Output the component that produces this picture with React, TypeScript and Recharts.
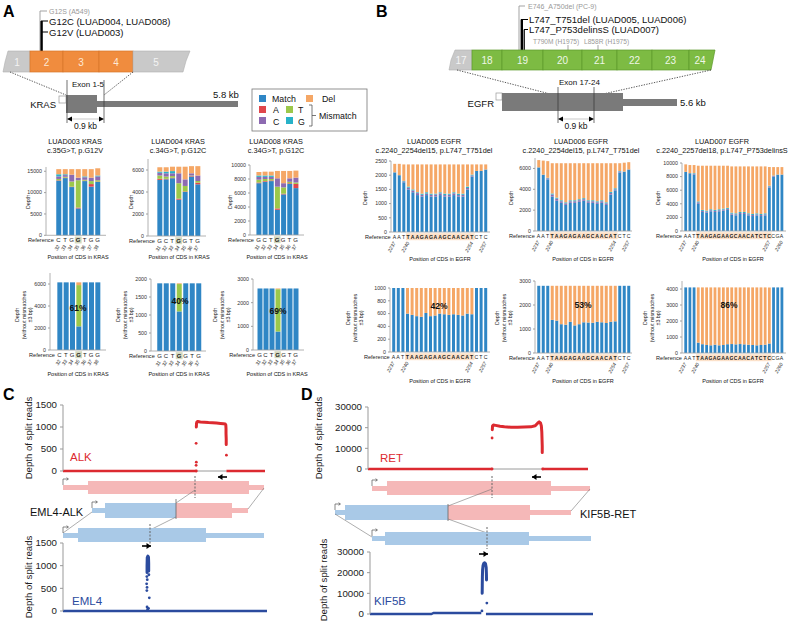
import React from 'react'
import { BarChart, Bar, XAxis, YAxis, ComposedChart, Line } from 'recharts'

const FONT = '"Liberation Sans", Arial, Helvetica, sans-serif'
const MATCH = '#2f86c5'
const MIS_A = '#e0464b'
const MIS_T = '#9cc84b'
const MIS_C = '#8d6ab1'
const MIS_G = '#27b2c8'
const DEL = '#f5a766'
const RED = '#dc2a30'
const NAVY = '#2b4b9e'
const PINK = '#f5b8b8'
const SKY = '#a9c9e7'

// ---------- panel A: KRAS
const krasPos003 = [32, 33, 34, 35, 36, 37, 38]
const krasRef003 = ['C', 'T', 'G', 'G', 'T', 'G', 'G']
const krasPos004 = [31, 32, 33, 34, 35, 36, 37]
const krasRef004 = ['G', 'C', 'T', 'G', 'G', 'T', 'G']
const krasHi = [3]

const k003Match = [12800, 13400, 11300, 6300, 12700, 11400, 12500]
const k003A = [100, 100, 100, 200, 100, 600, 100]
const k003T = [300, 200, 1200, 6400, 200, 700, 300]
const k003C = [600, 400, 1600, 600, 600, 800, 900]
const k003G = [500, 200, 0, 0, 200, 0, 200]
const k003Del = [1200, 1200, 1300, 2000, 1700, 2000, 1700]

const k004Match = [5100, 5150, 5250, 3300, 4000, 5400, 4700]
const k004A = [100, 50, 50, 100, 50, 50, 150]
const k004T = [300, 200, 150, 1400, 500, 50, 150]
const k004C = [250, 300, 250, 900, 600, 200, 500]
const k004G = [100, 150, 200, 0, 0, 0, 0]
const k004Del = [400, 400, 400, 600, 1150, 650, 850]

const k008Match = [7400, 7600, 7700, 3600, 5800, 7300, 6700]
const k008A = [100, 100, 100, 200, 100, 100, 600]
const k008T = [400, 300, 200, 3100, 900, 200, 200]
const k008C = [400, 300, 300, 1200, 600, 500, 700]
const k008G = [200, 200, 200, 0, 0, 0, 0]
const k008Del = [500, 550, 550, 1050, 1750, 1050, 1000]

// without mismatches +-3 bp
const k003bMatch = [6150, 6150, 6150, 2150, 6150, 6150, 6150]
const k003bT = [0, 0, 0, 3750, 0, 0, 0]
const k003bDel = [0, 0, 0, 250, 0, 0, 0]
const k004bMatch = [1880, 1880, 1880, 1100, 1880, 1880, 1880]
const k004bT = [0, 0, 0, 760, 0, 0, 0]
const k004bDel = [0, 0, 0, 20, 0, 0, 0]
const k008bMatch = [2600, 2600, 2600, 780, 2600, 2600, 2600]
const k008bT = [0, 0, 0, 1790, 0, 0, 0]
const k008bDel = [0, 0, 0, 30, 0, 0, 0]

// ---------- panel B: EGFR
const egfrPos21 = [2237, 2238, 2239, 2240, 2241, 2242, 2243, 2244, 2245, 2246, 2247, 2248, 2249, 2250, 2251, 2252, 2253, 2254, 2255, 2256, 2257]
const egfrRef21 = ['A', 'A', 'T', 'T', 'A', 'A', 'G', 'A', 'G', 'A', 'A', 'G', 'C', 'A', 'A', 'C', 'A', 'T', 'C', 'T', 'C']
const egfrHi21 = [3, 4, 5, 6, 7, 8, 9, 10, 11, 12, 13, 14, 15, 16, 17]
const egfrShown21 = [2237, 2240, 2254, 2257]
const egfrPos24 = [2237, 2238, 2239, 2240, 2241, 2242, 2243, 2244, 2245, 2246, 2247, 2248, 2249, 2250, 2251, 2252, 2253, 2254, 2255, 2256, 2257, 2258, 2259, 2260]
const egfrRef24 = ['A', 'A', 'T', 'T', 'A', 'A', 'G', 'A', 'G', 'A', 'A', 'G', 'C', 'A', 'A', 'C', 'A', 'T', 'C', 'T', 'C', 'C', 'G', 'A']
const egfrHi24 = [3, 4, 5, 6, 7, 8, 9, 10, 11, 12, 13, 14, 15, 16, 17, 18, 19, 20]
const egfrShown24 = [2237, 2240, 2257, 2260]

const e005Match = [2100, 2000, 1750, 1500, 1400, 1300, 1250, 1300, 1250, 1250, 1300, 1250, 1250, 1300, 1250, 1250, 1500, 1950, 2150, 2150, 2200]
const e005C = [0, 0, 30, 60, 60, 70, 60, 50, 60, 70, 60, 50, 60, 60, 50, 60, 50, 40, 0, 0, 0]
const e005G = [0, 0, 20, 40, 40, 30, 40, 50, 40, 30, 40, 50, 40, 40, 50, 40, 50, 30, 0, 0, 0]
const e005Del = [300, 400, 580, 780, 880, 980, 1030, 980, 1030, 1030, 980, 1030, 1030, 980, 1030, 1030, 780, 360, 230, 230, 180]

const e006Match = [6100, 5400, 4950, 3300, 2900, 2700, 2500, 2700, 2700, 2800, 2900, 2700, 2700, 2600, 2700, 2500, 3500, 3900, 5600, 5700, 5900]
const e006C = [0, 0, 100, 200, 200, 150, 150, 150, 150, 150, 150, 150, 150, 150, 150, 150, 150, 100, 100, 0, 0]
const e006G = [0, 0, 50, 100, 100, 100, 100, 100, 100, 100, 100, 100, 100, 100, 100, 100, 100, 100, 50, 0, 0]
const e006Del = [700, 1350, 1600, 2900, 3300, 3550, 3750, 3550, 3550, 3450, 3350, 3550, 3550, 3650, 3550, 3750, 2750, 2400, 750, 850, 700]

const e007Match = [8700, 8500, 8300, 4000, 2800, 2700, 2900, 2800, 2900, 3000, 3100, 2400, 2300, 2500, 2500, 2300, 2200, 2300, 2200, 2300, 6400, 8000, 8300, 8300]
const e007C = [0, 0, 100, 200, 150, 150, 150, 150, 150, 150, 150, 150, 150, 150, 150, 150, 150, 150, 150, 150, 150, 100, 0, 0]
const e007G = [0, 0, 100, 150, 150, 150, 150, 150, 150, 150, 150, 150, 150, 150, 150, 150, 150, 150, 150, 150, 100, 50, 0, 0]
const e007Del = [1100, 1200, 1200, 5250, 6500, 6600, 6400, 6500, 6400, 6300, 6200, 6800, 6900, 6700, 6700, 6900, 7000, 6900, 7000, 6900, 2750, 1250, 1100, 1100]

const e005bMatch = [1000, 1000, 1000, 600, 580, 560, 550, 610, 560, 570, 600, 590, 580, 590, 580, 570, 600, 590, 1000, 1000, 1000]
const e005bDel = [0, 0, 0, 400, 420, 440, 450, 390, 440, 430, 400, 410, 420, 410, 420, 430, 400, 410, 0, 0, 0]
const e006bMatch = [2800, 2800, 2800, 1380, 1350, 1200, 1180, 1300, 1150, 1200, 1280, 1270, 1260, 1300, 1280, 1250, 1300, 1320, 2800, 2800, 2800]
const e006bDel = [0, 0, 0, 1420, 1450, 1600, 1620, 1500, 1650, 1600, 1520, 1530, 1540, 1500, 1520, 1550, 1500, 1480, 0, 0, 0]
const e007bMatch = [4100, 4100, 4100, 650, 550, 500, 480, 520, 480, 500, 550, 560, 540, 560, 540, 520, 500, 480, 500, 520, 600, 4100, 4100, 4100]
const e007bDel = [0, 0, 0, 3450, 3550, 3600, 3620, 3580, 3620, 3600, 3550, 3540, 3560, 3540, 3560, 3580, 3600, 3620, 3600, 3580, 3500, 0, 0, 0]

// ---------- panels C / D: split read depth (x = relative genomic position 0-100)
const zero2 = [0, 0]
const alkBaseL = [0, 66.0]
const alkBaseR = [80.9, 100]
const alkGap = [66.0, 80.9]
const alkPeakPos = [66.0, 66.1, 66.3, 66.8, 68, 70, 72, 74, 76, 78, 79.5, 80.3, 80.6, 80.7, 80.7, 80.8, 80.8]
const alkPeakDepth = [1000, 1080, 1115, 1125, 1115, 1108, 1100, 1095, 1090, 1082, 1075, 1070, 1045, 960, 850, 720, 600]
const alkDotPos = [65.9, 66.0, 65.9, 80.9, 66.0]
const alkDotDepth = [130, 200, 630, 360, 0]

const emlBase = [0, 100]
const emlPeakPos = [41.2, 41.2, 41.3, 41.6, 41.9, 42.0, 42.0]
const emlPeakDepth = [850, 1000, 1180, 1210, 1190, 1050, 880]
const emlDotPos = [41.1, 41.3, 41.0, 41.2, 42.1, 41.1, 42.3, 41.2, 41.9, 41.5]
const emlDotDepth = [760, 690, 600, 520, 800, 450, 290, 90, 60, 40]

const retBaseL = [0, 56.4]
const retBaseR = [79.4, 100]
const retGap = [56.4, 79.4]
const retPeakPos = [56.5, 56.6, 57.0, 58, 60, 62, 65, 68, 71, 74, 76, 77.2, 77.8, 78.4, 78.8, 79.0, 79.1, 79.2, 79.2]
const retPeakDepth = [19000, 20800, 21300, 21100, 20700, 20400, 20200, 20200, 20300, 20400, 20900, 22300, 22800, 22300, 20800, 18000, 14500, 11000, 8000]
const retDotPos = [56.4, 56.4, 79.4]
const retDotDepth = [15000, 0, 0]

const kifBaseLPos = [0, 27.5, 28.5, 49.9]
const kifBaseLDepth = [0, 0, 500, 500]
const kifBaseR = [52.0, 100]
const kifPeakPos = [50.3, 50.35, 50.4, 50.5, 50.7, 51.0, 51.4, 51.8, 52.1, 52.2, 52.25]
const kifPeakDepth = [10000, 14000, 18000, 21500, 23500, 24500, 24800, 24300, 22500, 19500, 16500]
const kifDotPos = [52.4, 50.2]
const kifDotDepth = [5300, 1500]

const zip = (xs: number[], ys: number[]) => xs.map((x, i) => ({ x, y: ys[i] }))
const S = (key: string, vals: number[], color: string) => ({ key, vals, color })

const smallCharts: any[] = [
  { axisX: 46, xEnd: 106, barL: 56, barR: 100, barW: 5, y0: 235, yTop: 166.7, ymax: 16000, ticks: [0, 5000, 10000, 15000], pos: krasPos003, refs: krasRef003, hi: krasHi, shown: krasPos003, hiColor: '#d5d9bf', letter: 6,
    series: [S('m', k003Match, MATCH), S('a', k003A, MIS_A), S('t', k003T, MIS_T), S('c', k003C, MIS_C), S('g', k003G, MIS_G), S('d', k003Del, DEL)] },
  { axisX: 148, xEnd: 206, barL: 157, barR: 200, barW: 5, y0: 236, yTop: 159, ymax: 7000, ticks: [0, 2000, 4000, 6000], pos: krasPos004, refs: krasRef004, hi: krasHi, shown: krasPos004, hiColor: '#d5d9bf', letter: 6,
    series: [S('m', k004Match, MATCH), S('a', k004A, MIS_A), S('t', k004T, MIS_T), S('c', k004C, MIS_C), S('g', k004G, MIS_G), S('d', k004Del, DEL)] },
  { axisX: 250, xEnd: 304, barL: 256, barR: 298, barW: 5, y0: 235, yTop: 165, ymax: 10000, ticks: [0, 2000, 4000, 6000, 8000, 10000], pos: krasPos004, refs: krasRef004, hi: krasHi, shown: krasPos004, hiColor: '#d5d9bf', letter: 6,
    series: [S('m', k008Match, MATCH), S('a', k008A, MIS_A), S('t', k008T, MIS_T), S('c', k008C, MIS_C), S('g', k008G, MIS_G), S('d', k008Del, DEL)] },
  { axisX: 50, xEnd: 106, barL: 57, barR: 100, barW: 5, y0: 350, yTop: 273, ymax: 7000, ticks: [0, 2000, 4000, 6000], pos: krasPos003, refs: krasRef003, hi: krasHi, shown: krasPos003, hiColor: '#d5d9bf', letter: 6,
    series: [S('m', k003bMatch, MATCH), S('t', k003bT, MIS_T), S('d', k003bDel, DEL)] },
  { axisX: 151, xEnd: 206, barL: 157, barR: 201, barW: 5, y0: 351, yTop: 279, ymax: 2000, ticks: [0, 500, 1000, 1500, 2000], pos: krasPos004, refs: krasRef004, hi: krasHi, shown: krasPos004, hiColor: '#d5d9bf', letter: 6,
    series: [S('m', k004bMatch, MATCH), S('t', k004bT, MIS_T), S('d', k004bDel, DEL)] },
  { axisX: 253, xEnd: 304, barL: 257, barR: 298, barW: 5, y0: 350, yTop: 279, ymax: 3000, ticks: [0, 1000, 2000, 3000], pos: krasPos004, refs: krasRef004, hi: krasHi, shown: krasPos004, hiColor: '#d5d9bf', letter: 6,
    series: [S('m', k008bMatch, MATCH), S('t', k008bT, MIS_T), S('d', k008bDel, DEL)] },
  { axisX: 391, xEnd: 490, barL: 393, barR: 487, barW: 3, y0: 232, yTop: 161, ymax: 2500, ticks: [0, 500, 1000, 1500, 2000, 2500], pos: egfrPos21, refs: egfrRef21, hi: egfrHi21, shown: egfrShown21, hiColor: '#fce1c9', letter: 5.2,
    series: [S('m', e005Match, MATCH), S('c', e005C, MIS_C), S('g', e005G, MIS_G), S('d', e005Del, DEL)] },
  { axisX: 535, xEnd: 632, barL: 537, barR: 630, barW: 3, y0: 231, yTop: 158, ymax: 7000, ticks: [0, 2000, 4000, 6000], pos: egfrPos21, refs: egfrRef21, hi: egfrHi21, shown: egfrShown21, hiColor: '#fce1c9', letter: 5.2,
    series: [S('m', e006Match, MATCH), S('c', e006C, MIS_C), S('g', e006G, MIS_G), S('d', e006Del, DEL)] },
  { axisX: 682, xEnd: 786, barL: 684, barR: 783, barW: 2.8, y0: 231, yTop: 163, ymax: 10000, ticks: [0, 2000, 4000, 6000, 8000, 10000], pos: egfrPos24, refs: egfrRef24, hi: egfrHi24, shown: egfrShown24, hiColor: '#fce1c9', letter: 5.2,
    series: [S('m', e007Match, MATCH), S('c', e007C, MIS_C), S('g', e007G, MIS_G), S('d', e007Del, DEL)] },
  { axisX: 390, xEnd: 490, barL: 392, barR: 487, barW: 3, y0: 352, yTop: 288, ymax: 1000, ticks: [0, 200, 400, 600, 800, 1000], pos: egfrPos21, refs: egfrRef21, hi: egfrHi21, shown: egfrShown21, hiColor: '#fce1c9', letter: 5.2,
    series: [S('m', e005bMatch, MATCH), S('d', e005bDel, DEL)] },
  { axisX: 535, xEnd: 632, barL: 537, barR: 630, barW: 3, y0: 353, yTop: 281, ymax: 3000, ticks: [0, 1000, 2000, 3000], pos: egfrPos21, refs: egfrRef21, hi: egfrHi21, shown: egfrShown21, hiColor: '#fce1c9', letter: 5.2,
    series: [S('m', e006bMatch, MATCH), S('d', e006bDel, DEL)] },
  { axisX: 682, xEnd: 786, barL: 684, barR: 783, barW: 2.8, y0: 353, yTop: 281, ymax: 4500, ticks: [0, 1000, 2000, 3000, 4000], pos: egfrPos24, refs: egfrRef24, hi: egfrHi24, shown: egfrShown24, hiColor: '#fce1c9', letter: 5.2,
    series: [S('m', e007bMatch, MATCH), S('d', e007bDel, DEL)] },
]

function SmallBars({ p }: any) {
  const YW = 42, XH = 26, MT = 3, MR = 3
  const n = p.pos.length
  const s = (p.barR - p.barL - p.barW) / (n - 1)
  const r0 = p.barL + p.barW / 2 - s / 2
  const r1 = p.barR - p.barW / 2 + s / 2
  const rows = p.pos.map((ps: number, i: number) => {
    const o: any = { pos: ps }
    p.series.forEach((se: any) => { o[se.key] = se.vals[i] })
    return o
  })
  const tick = (t: any) => {
    const v = t.payload.value
    const i = p.pos.indexOf(v)
    const hi = p.hi.includes(i)
    return (
      <g transform={`translate(${t.x},${t.y})`}>
        {hi && <rect x={-s / 2} y={1.2} width={s + 0.4} height={7} fill={p.hiColor} />}
        <text x={0} y={7.2} textAnchor="middle" fontSize={p.letter} fontWeight={hi ? 'bold' : 'normal'} fill="#222">{p.refs[i]}</text>
        {i === 0 && <text x={-s / 2 - 1.5} y={7.2} textAnchor="end" fontSize={5.6} fill="#222">Reference</text>}
        {p.shown.includes(v) && (
          <text transform="translate(1.5,11) rotate(-60)" textAnchor="end" fontSize={5} fontStyle="italic" fill="#333">{v}</text>
        )}
      </g>
    )
  }
  return (
    <div style={{ position: 'absolute', left: p.axisX - YW, top: p.yTop - MT }}>
      <BarChart width={YW + (p.xEnd - p.axisX) + MR} height={MT + (p.y0 - p.yTop) + XH} data={rows}
        margin={{ top: MT, right: MR, left: 0, bottom: 0 }} barSize={p.barW}>
        <XAxis dataKey="pos" height={XH} interval={0} tickLine={false} tickSize={0} tickMargin={0} tick={tick}
          padding={{ left: r0 - p.axisX, right: p.xEnd - r1 }} axisLine={{ stroke: '#a0a0a0', strokeWidth: 0.8 }} />
        <YAxis width={YW} domain={[0, p.ymax]} ticks={p.ticks} interval={0} tickSize={2} tickMargin={2}
          tick={{ fontSize: 5.3, fill: '#333' }} tickLine={{ stroke: '#a0a0a0' }} axisLine={{ stroke: '#a0a0a0', strokeWidth: 0.8 }} />
        {p.series.map((se: any) => (
          <Bar key={se.key} dataKey={se.key} stackId="s" fill={se.color} isAnimationActive={false} />
        ))}
      </BarChart>
    </div>
  )
}

function SplitChart({ axisX, xEnd, yTop, y0, ymax, ticks, color, base, gap, main, dots }: any) {
  const YW = 46, MT = 6, MR = 3, MB = 6
  return (
    <div style={{ position: 'absolute', left: axisX - YW, top: yTop - MT }}>
      <ComposedChart width={YW + xEnd - axisX + MR} height={MT + y0 - yTop + MB} margin={{ top: MT, right: MR, left: 0, bottom: MB }}>
        <XAxis type="number" dataKey="x" domain={[0, 100]} hide />
        <YAxis type="number" domain={[0, ymax]} ticks={ticks} interval={0} width={YW} tickSize={3} tickMargin={3}
          tick={{ fontSize: 9.7, fill: '#222' }} axisLine={{ stroke: '#999' }} tickLine={{ stroke: '#999' }} />
        {gap && <Line data={gap} dataKey="y" stroke="#9a9a9a" strokeWidth={1} dot={false} isAnimationActive={false} />}
        {base.map((seg: any, i: number) => (
          <Line key={i} data={seg} dataKey="y" stroke={color} strokeWidth={2.4} dot={false} isAnimationActive={false} />
        ))}
        <Line data={main} dataKey="y" stroke={color} strokeWidth={3} strokeLinecap="round" strokeLinejoin="round" dot={false} isAnimationActive={false} />
        <Line data={dots} dataKey="y" stroke="none" dot={{ r: 1.4, fill: color, stroke: color, strokeWidth: 0 }} isAnimationActive={false} />
      </ComposedChart>
    </div>
  )
}

const Tx = ({ x, y, s, size = 9, fill = '#111', anchor = 'start', weight = 'normal' }: any) => (
  <text x={x} y={y} fontSize={size} fill={fill} textAnchor={anchor} fontWeight={weight}>{s}</text>
)

const RotLines = ({ x, y, lines, size = 5.3, gap = 6.6, fill = '#222' }: any) => (
  <>
    {lines.map((l: string, i: number) => (
      <text key={i} transform={`translate(${x + i * gap},${y}) rotate(-90)`} textAnchor="middle" fontSize={size} fill={fill}>{l}</text>
    ))}
  </>
)

const Tss = ({ x, y }: any) => (
  <g stroke="#555" strokeWidth={0.7} fill="none">
    <path d={`M${x} ${y} V${y - 6} H${x + 5}`} />
    <path d={`M${x + 3.5} ${y - 7.3} L${x + 5.5} ${y - 6} L${x + 3.5} ${y - 4.7}`} />
  </g>
)

const DirArrow = ({ x, y, dir }: any) => (
  <g>
    <line x1={x} y1={y} x2={x + dir * 9} y2={y} stroke="#000" strokeWidth={1.6} />
    <polygon points={`${x + dir * 9},${y} ${x + dir * 4.5},${y - 3} ${x + dir * 4.5},${y + 3}`} fill="#000" />
  </g>
)

const Dim = ({ x1, x2, y }: any) => (
  <g>
    <line x1={x1} y1={y} x2={x2} y2={y} stroke="#bbb" strokeWidth={0.8} />
    <polygon points={`${x1},${y} ${x1 + 5},${y - 2.5} ${x1 + 5},${y + 2.5}`} fill="#000" />
    <polygon points={`${x2},${y} ${x2 - 5},${y - 2.5} ${x2 - 5},${y + 2.5}`} fill="#000" />
  </g>
)

function Overlay() {
  const exonK = [[30, 63, '2'], [63, 99, '3'], [99, 133, '4']]
  const exonE = [[472, 502, '18'], [502, 543, '19'], [543, 582, '20'], [582, 617, '21'], [617, 652, '22'], [652, 689, '23']]
  const titles = [
    [75, 'LUAD003 KRAS', 'c.35G>T, p.G12V'], [178, 'LUAD004 KRAS', 'c.34G>T, p.G12C'], [276, 'LUAD008 KRAS', 'c.34G>T, p.G12C'],
    [434, 'LUAD005 EGFR', 'c.2240_2254del15, p.L747_T751del'], [581, 'LUAD006 EGFR', 'c.2240_2254del15, p.L747_T751del'],
    [722, 'LUAD007 EGFR', 'c.2240_2257del18, p.L747_P753delinsS'],
  ]
  const depthLbl = ['Depth', '(without mismatches', '\u00b13 bp)']
  return (
    <svg width={800} height={626} style={{ position: 'absolute', left: 0, top: 0, pointerEvents: 'none' }} fontFamily={FONT}>
      <Tx x={3} y={17} s="A" size={16} weight="bold" fill="#000" />
      <Tx x={376} y={17} s="B" size={16} weight="bold" fill="#000" />
      <Tx x={3} y={400} s="C" size={16} weight="bold" fill="#000" />
      <Tx x={301} y={400} s="D" size={16} weight="bold" fill="#000" />

      {/* KRAS gene */}
      <path d="M40 51 V11 H47" stroke="#999" strokeWidth={0.9} fill="none" />
      <line x1={41.6} y1={21} x2={41.6} y2={51} stroke="#000" strokeWidth={2.4} />
      <path d="M41 21 H48 M41 32 H48" stroke="#000" strokeWidth={1} />
      <Tx x={49} y={13.5} s="G12S (A549)" size={7} fill="#999" />
      <Tx x={49} y={25} s="G12C (LUAD004, LUAD008)" size={9.5} />
      <Tx x={49} y={36} s="G12V (LUAD003)" size={9.5} />
      <polygon points="8,51 30,51 30,72 3,72 5,62" fill="#c9c9c9" stroke="#b0b0b0" strokeWidth={0.6} />
      {exonK.map((e: any) => (
        <g key={e[2]}>
          <rect x={e[0]} y={51} width={e[1] - e[0]} height={21} fill="#f08c3e" stroke="#d6752a" strokeWidth={0.7} />
          <Tx x={(e[0] + e[1]) / 2} y={65.5} s={e[2]} size={10} fill="#fde9d6" anchor="middle" />
        </g>
      ))}
      <polygon points="133,51 190,51 186,61 183,72 133,72" fill="#c9c9c9" stroke="#b0b0b0" strokeWidth={0.6} />
      <Tx x={17} y={65.5} s="1" size={10} fill="#f4f4f4" anchor="middle" />
      <Tx x={156} y={65.5} s="5" size={10} fill="#f4f4f4" anchor="middle" />
      <line x1={10} y1={72} x2={66} y2={95} stroke="#444" strokeWidth={0.9} strokeDasharray="1.3 1.3" />
      <line x1={133} y1={72} x2={104} y2={95} stroke="#444" strokeWidth={0.9} strokeDasharray="1.3 1.3" />
      <Tx x={72} y={87} s="Exon 1-5" size={8} />
      <rect x={59} y={96} width={7} height={7} fill="#fff" stroke="#999" strokeWidth={0.7} />
      <rect x={66} y={95} width={31} height={18} fill="#7a7a7a" />
      <rect x={97} y={101} width={141} height={6} fill="#7a7a7a" />
      <line x1={67} y1={80} x2={67} y2={123} stroke="#333" strokeWidth={0.7} />
      <line x1={104} y1={80} x2={104} y2={123} stroke="#333" strokeWidth={0.7} />
      <Dim x1={67} x2={104} y={119} />
      <Tx x={56} y={108} s="KRAS" size={9.5} anchor="end" />
      <Tx x={213} y={98} s="5.8 kb" size={9.5} />
      <Tx x={85.5} y={129} s="0.9 kb" size={8.5} anchor="middle" />

      {/* legend */}
      <rect x={252} y={89} width={115} height={42} fill="#fff" stroke="#777" strokeWidth={0.8} />
      <rect x={259} y={95} width={7} height={7} fill={MATCH} />
      <Tx x={272} y={102} s="Match" size={8.8} />
      <rect x={306} y={95} width={7} height={7} fill={DEL} />
      <Tx x={322} y={102} s="Del" size={8.8} />
      <rect x={259} y={106} width={7} height={7} fill={MIS_A} />
      <Tx x={273} y={113} s="A" size={8.8} />
      <rect x={286} y={106} width={7} height={7} fill={MIS_T} />
      <Tx x={298} y={113} s="T" size={8.8} />
      <rect x={259} y={117} width={7} height={7} fill={MIS_C} />
      <Tx x={273} y={124.5} s="C" size={8.8} />
      <rect x={286} y={117} width={7} height={7} fill={MIS_G} />
      <Tx x={298} y={124.5} s="G" size={8.8} />
      <path d="M309 105 H312 V126 H309 M312 115.5 H316" stroke="#555" strokeWidth={0.8} fill="none" />
      <Tx x={319} y={119} s="Mismatch" size={8.8} />

      {/* EGFR gene */}
      <path d="M519 50 V6 H525" stroke="#999" strokeWidth={0.9} fill="none" />
      <line x1={521.8} y1={19.5} x2={521.8} y2={50} stroke="#000" strokeWidth={2.4} />
      <line x1={524.2} y1={29.5} x2={524.2} y2={50} stroke="#000" strokeWidth={1.3} />
      <path d="M521 19.5 H528 M524 29.5 H528" stroke="#000" strokeWidth={1} />
      <Tx x={528} y={8.5} s="E746_A750del (PC-9)" size={7} fill="#999" />
      <Tx x={529} y={23} s="L747_T751del (LUAD005, LUAD006)" size={9.5} />
      <Tx x={529} y={33} s="L747_P753delinsS (LUAD007)" size={9.5} />
      <Tx x={533} y={43.5} s="T790M (H1975)" size={6.6} fill="#999" />
      <Tx x={584} y={43.5} s="L858R (H1975)" size={6.6} fill="#999" />
      <line x1={568} y1={45} x2={568} y2={50} stroke="#999" strokeWidth={0.9} />
      <line x1={598} y1={45} x2={598} y2={50} stroke="#999" strokeWidth={0.9} />
      <polygon points="455,50 472,50 472,70 449,70 451,60" fill="#c9c9c9" stroke="#b0b0b0" strokeWidth={0.6} />
      {exonE.map((e: any) => (
        <g key={e[2]}>
          <rect x={e[0]} y={50} width={e[1] - e[0]} height={20} fill="#7dbb43" stroke="#5d9a2c" strokeWidth={0.7} />
          <Tx x={(e[0] + e[1]) / 2} y={64} s={e[2]} size={10} fill="#eef7e6" anchor="middle" />
        </g>
      ))}
      <polygon points="689,50 715,50 713,60 711,70 689,70" fill="#7dbb43" stroke="#5d9a2c" strokeWidth={0.7} />
      <Tx x={461} y={64} s="17" size={10} fill="#f4f4f4" anchor="middle" />
      <Tx x={700} y={64} s="24" size={10} fill="#eef7e6" anchor="middle" />
      <line x1={457} y1={70} x2={558} y2={96} stroke="#444" strokeWidth={0.9} strokeDasharray="1.3 1.3" />
      <line x1={711} y1={70} x2={594} y2={96} stroke="#444" strokeWidth={0.9} strokeDasharray="1.3 1.3" />
      <Tx x={559} y={85} s="Exon 17-24" size={8} />
      <rect x={496} y={93} width={6} height={7} fill="#fff" stroke="#999" strokeWidth={0.7} />
      <rect x={502} y={93} width={121} height={18} fill="#7a7a7a" />
      <rect x={623} y={99} width={54} height={7} fill="#7a7a7a" />
      <line x1={558} y1={87} x2={558} y2={123} stroke="#333" strokeWidth={0.7} />
      <line x1={594} y1={87} x2={594} y2={123} stroke="#333" strokeWidth={0.7} />
      <Dim x1={558} x2={594} y={119} />
      <Tx x={494} y={107} s="EGFR" size={9.5} anchor="end" />
      <Tx x={680} y={106} s="5.6 kb" size={9.5} />
      <Tx x={576} y={129} s="0.9 kb" size={8.5} anchor="middle" />

      {/* small chart titles and labels */}
      {titles.map((t: any) => (
        <g key={t[1]}>
          <Tx x={t[0]} y={144} s={t[1]} size={7.3} anchor="middle" />
          <Tx x={t[0]} y={153} s={t[2]} size={7.3} anchor="middle" />
        </g>
      ))}
      <RotLines x={30} y={202} lines={['Depth']} />
      <RotLines x={133} y={202} lines={['Depth']} />
      <RotLines x={232} y={202} lines={['Depth']} />
      <RotLines x={367} y={198} lines={['Depth']} />
      <RotLines x={513} y={198} lines={['Depth']} />
      <RotLines x={660} y={198} lines={['Depth']} />
      <RotLines x={19} y={315} lines={depthLbl} />
      <RotLines x={120} y={315} lines={depthLbl} />
      <RotLines x={217} y={315} lines={depthLbl} />
      <RotLines x={350} y={318} lines={depthLbl} />
      <RotLines x={499} y={318} lines={depthLbl} />
      <RotLines x={647} y={318} lines={depthLbl} />
      <Tx x={78} y={259} s="Position of CDS in KRAS" size={5.5} anchor="middle" />
      <Tx x={179} y={259} s="Position of CDS in KRAS" size={5.5} anchor="middle" />
      <Tx x={277} y={259} s="Position of CDS in KRAS" size={5.5} anchor="middle" />
      <Tx x={78} y={376} s="Position of CDS in KRAS" size={5.5} anchor="middle" />
      <Tx x={179} y={376} s="Position of CDS in KRAS" size={5.5} anchor="middle" />
      <Tx x={277} y={376} s="Position of CDS in KRAS" size={5.5} anchor="middle" />
      <Tx x={440} y={261} s="Position of CDS in EGFR" size={5.5} anchor="middle" />
      <Tx x={583} y={261} s="Position of CDS in EGFR" size={5.5} anchor="middle" />
      <Tx x={733} y={261} s="Position of CDS in EGFR" size={5.5} anchor="middle" />
      <Tx x={440} y={383} s="Position of CDS in EGFR" size={5.5} anchor="middle" />
      <Tx x={583} y={383} s="Position of CDS in EGFR" size={5.5} anchor="middle" />
      <Tx x={733} y={383} s="Position of CDS in EGFR" size={5.5} anchor="middle" />
      <Tx x={78} y={311} s="61%" size={8.5} weight="bold" anchor="middle" />
      <Tx x={180} y={304} s="40%" size={8.5} weight="bold" anchor="middle" />
      <Tx x={278} y={314} s="69%" size={8.5} weight="bold" anchor="middle" />
      <Tx x={439} y={309} s="42%" size={8.5} weight="bold" anchor="middle" />
      <Tx x={583} y={308} s="53%" size={8.5} weight="bold" anchor="middle" />
      <Tx x={729} y={308} s="86%" size={8.5} weight="bold" anchor="middle" />

      {/* panel C diagrams */}
      <Tss x={63} y={485} />
      <rect x={63} y={485} width={25} height={5} fill={PINK} />
      <rect x={88} y={481} width={161} height={13} fill={PINK} />
      <rect x={249} y={485} width={15} height={5} fill={PINK} />
      <line x1={195} y1={476} x2={195} y2={498} stroke="#666" strokeWidth={1} strokeDasharray="2 1.5" />
      <DirArrow x={227} y={477} dir={-1} />
      <Tss x={92} y={508} />
      <rect x={92} y={508} width={13} height={5} fill={SKY} />
      <rect x={105} y={503} width={71} height={15} fill={SKY} />
      <rect x={176} y={503} width={56} height={15} fill={PINK} />
      <rect x={232} y={508} width={16} height={5} fill={PINK} />
      <line x1={176} y1={499} x2={176} y2={519} stroke="#666" strokeWidth={0.8} />
      <g stroke="#777" strokeWidth={0.6}>
        <line x1={195} y1={490} x2={176} y2={503} />
        <line x1={264} y1={488} x2={248} y2={509} />
        <line x1={63} y1={533} x2={92} y2={512} />
        <line x1={150} y1={530} x2={176} y2={517} />
      </g>
      <Tx x={30} y={516} s="EML4-ALK" size={11} />
      <Tss x={63} y={533} />
      <rect x={63} y={533} width={15} height={5} fill={SKY} />
      <rect x={78} y={528} width={128} height={14} fill={SKY} />
      <rect x={206} y={533} width={58} height={5} fill={SKY} />
      <line x1={150} y1={524} x2={150} y2={545} stroke="#666" strokeWidth={1} strokeDasharray="2 1.5" />
      <DirArrow x={142} y={546} dir={1} />
      <Tx x={70} y={461} s="ALK" size={11.5} fill={RED} />
      <Tx x={72} y={605} s="EML4" size={11.5} fill={NAVY} />
      <RotLines x={32} y={438} lines={['Depth of split reads']} size={9.6} />
      <RotLines x={32} y={577} lines={['Depth of split reads']} size={9.6} />

      {/* panel D diagrams */}
      <Tss x={372} y={486} />
      <rect x={372} y={486} width={15} height={5} fill={PINK} />
      <rect x={387} y={481} width={164} height={14} fill={PINK} />
      <rect x={551} y={486} width={39} height={5} fill={PINK} />
      <line x1={492} y1={476} x2={492} y2={498} stroke="#666" strokeWidth={1} strokeDasharray="2 1.5" />
      <DirArrow x={541} y={477} dir={-1} />
      <Tss x={335} y={510} />
      <rect x={335} y={510} width={10} height={5} fill={SKY} />
      <rect x={345} y={505} width={103} height={15} fill={SKY} />
      <rect x={448} y={505} width={82} height={15} fill={PINK} />
      <rect x={530} y={510} width={41} height={5} fill={PINK} />
      <line x1={448} y1={504} x2={448} y2={521} stroke="#666" strokeWidth={0.8} />
      <g stroke="#777" strokeWidth={0.6}>
        <line x1={492} y1={489} x2={448} y2={506} />
        <line x1={590} y1={489} x2={571} y2={511} />
        <line x1={372} y1={537} x2={335} y2={514} />
        <line x1={487} y1={533} x2={448} y2={519} />
      </g>
      <Tx x={580} y={518} s="KIF5B-RET" size={11} />
      <Tss x={372} y={536} />
      <rect x={372} y={536} width={13} height={5} fill={SKY} />
      <rect x={385} y={532} width={144} height={13} fill={SKY} />
      <rect x={529} y={536} width={62} height={5} fill={SKY} />
      <line x1={487} y1={527} x2={487} y2={549} stroke="#666" strokeWidth={1} strokeDasharray="2 1.5" />
      <DirArrow x={479} y={554} dir={1} />
      <Tx x={380} y={462} s="RET" size={11.5} fill={RED} />
      <Tx x={374} y={605} s="KIF5B" size={11.5} fill={NAVY} />
      <RotLines x={322} y={438} lines={['Depth of split reads']} size={9.6} />
      <RotLines x={327} y={580} lines={['Depth of split reads']} size={9.6} />
    </svg>
  )
}

export default function App() {
  return (
    <div style={{ position: 'absolute', left: 0, top: 0, width: 800, height: 626, background: '#fff', fontFamily: FONT, overflow: 'hidden' }}>
      {smallCharts.map((p, i) => <SmallBars key={i} p={p} />)}
      <SplitChart axisX={63} xEnd={265} yTop={405} y0={471} ymax={1500} ticks={[0, 500, 1000, 1500]} color={RED}
        base={[zip(alkBaseL, zero2), zip(alkBaseR, zero2)]} gap={zip(alkGap, zero2)}
        main={zip(alkPeakPos, alkPeakDepth)} dots={zip(alkDotPos, alkDotDepth)} />
      <SplitChart axisX={63} xEnd={267} yTop={543} y0={611} ymax={1500} ticks={[0, 500, 1000, 1500]} color={NAVY}
        base={[zip(emlBase, zero2)]} main={zip(emlPeakPos, emlPeakDepth)} dots={zip(emlDotPos, emlDotDepth)} />
      <SplitChart axisX={368} xEnd={588} yTop={407} y0={469} ymax={30000} ticks={[0, 10000, 20000, 30000]} color={RED}
        base={[zip(retBaseL, zero2), zip(retBaseR, zero2)]} gap={zip(retGap, zero2)}
        main={zip(retPeakPos, retPeakDepth)} dots={zip(retDotPos, retDotDepth)} />
      <SplitChart axisX={370} xEnd={593} yTop={552} y0={614} ymax={30000} ticks={[0, 10000, 20000, 30000]} color={NAVY}
        base={[zip(kifBaseLPos, kifBaseLDepth), zip(kifBaseR, zero2)]}
        main={zip(kifPeakPos, kifPeakDepth)} dots={zip(kifDotPos, kifDotDepth)} />
      <Overlay />
    </div>
  )
}
